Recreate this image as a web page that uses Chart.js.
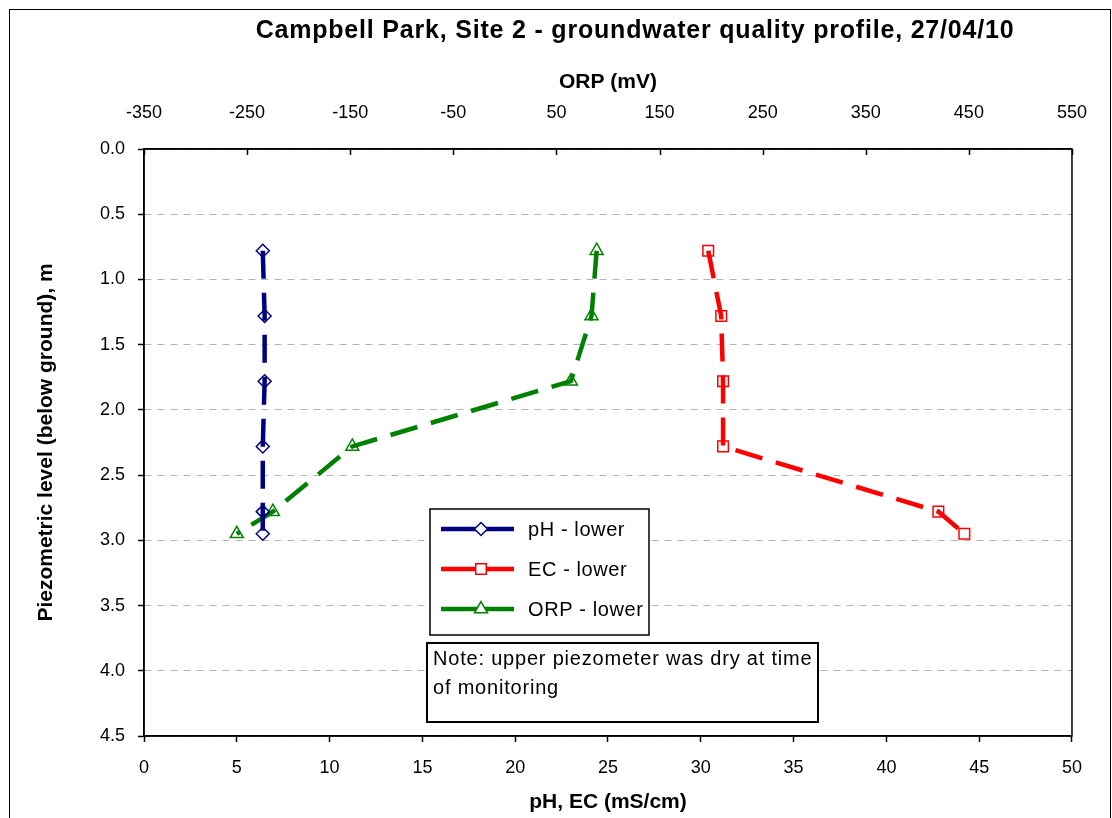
<!DOCTYPE html>
<html lang="en">
<head>
<meta charset="UTF-8">
<title>Campbell Park, Site 2 - groundwater quality profile</title>
<style>
  body { margin: 0; background: #fff; }
  #wrap { width: 1112px; height: 818px; }
</style>
</head>
<body>
<div id="wrap"><canvas id="profile"></canvas></div>
<script src="https://cdn.jsdelivr.net/npm/chart.js@4/dist/chart.umd.min.js"></script>
<script>
// sample depths below ground (m), lower piezometer
const depths = [0.78, 1.28, 1.78, 2.28, 2.78, 2.95]
const phLower = [6.4, 6.5, 6.5, 6.4, 6.4, 6.4]
const ecLower = [30.4, 31.1, 31.2, 31.2, 42.8, 44.2]
const orpLower = [89, 84, 64, -148, -225, -260]

const seriesNames = ['pH - lower', 'EC - lower', 'ORP - lower']
const bottomRange = [0, 50, 5]
const topRange = [-350, 550, 100]
const depthRange = [0, 4.5, 0.5]

const chartTitle = 'Campbell Park, Site 2 - groundwater quality profile, 27/04/10'
const noteLines = ['Note: upper piezometer was dry at time', 'of monitoring']

const FONT = 'Liberation Sans, Arial, sans-serif'
Chart.defaults.font.family = FONT
Chart.defaults.color = '#000'

const toPoints = vals => vals.map((v, i) => ({x: v, y: depths[i]}))

function drawMarker(ctx, style, x, y, r, color) {
    ctx.save()
    ctx.strokeStyle = color
    ctx.lineWidth = 1.5
    ctx.setLineDash([])
    ctx.beginPath()
    if (style === 'rectRot') {
        ctx.moveTo(x, y - r); ctx.lineTo(x + r, y); ctx.lineTo(x, y + r); ctx.lineTo(x - r, y); ctx.closePath()
    } else if (style === 'rect') {
        const s = r * Math.SQRT1_2
        ctx.rect(x - s, y - s, 2 * s, 2 * s)
    } else {
        const w = r * Math.sqrt(3) / 2
        ctx.moveTo(x, y - r); ctx.lineTo(x + w, y + r / 2); ctx.lineTo(x - w, y + r / 2); ctx.closePath()
    }
    ctx.fillStyle = '#fff'
    ctx.fill()
    ctx.stroke()
    ctx.restore()
}

const extras = {
    id: 'extras',
    afterDraw(chart) {
        const ctx = chart.ctx
        const area = chart.chartArea
        ctx.save()
        // outer frame
        ctx.strokeStyle = '#000'
        ctx.lineWidth = 1
        ctx.strokeRect(9.5, 9.5, 1101, 900)
        // plot border
        ctx.lineWidth = 1.5
        ctx.strokeRect(area.left, area.top, area.right - area.left, area.bottom - area.top)
        // inward ticks on ORP axis
        const top = chart.scales.x2
        top.ticks.forEach(t => {
            const px = Math.round(top.getPixelForValue(t.value)) + 0.5
            ctx.beginPath(); ctx.moveTo(px, area.top); ctx.lineTo(px, area.top + 6); ctx.stroke()
        })
        // title
        ctx.font = 'bold 25px ' + FONT
        ctx.letterSpacing = '0.8px'
        ctx.fillStyle = '#000'
        ctx.textAlign = 'center'
        ctx.textBaseline = 'middle'
        ctx.fillText(chartTitle, 635, 31)

        // legend
        ctx.fillStyle = '#fff'
        ctx.fillRect(430, 509, 219, 126)
        ctx.lineWidth = 1.5
        ctx.strokeRect(430, 509, 219, 126)
        ctx.font = '20px ' + FONT
        ctx.letterSpacing = '0.6px'
        ctx.textAlign = 'left'
        chart.data.datasets.forEach((ds, i) => {
            const y = 529 + i * 40
            ctx.strokeStyle = ds.borderColor
            ctx.lineWidth = ds.borderWidth
            ctx.beginPath(); ctx.moveTo(441, y); ctx.lineTo(514, y); ctx.stroke()
            drawMarker(ctx, ds.pointStyle, 481, y, ds.pointRadius, ds.pointBorderColor)
            ctx.fillStyle = '#000'
            ctx.fillText(ds.label, 528, y + 1)
        })

        // note box
        ctx.fillStyle = '#fff'
        ctx.fillRect(427, 643, 391, 79)
        ctx.strokeStyle = '#000'
        ctx.lineWidth = 2
        ctx.strokeRect(427, 643, 391, 79)
        ctx.fillStyle = '#000'
        ctx.font = '20px ' + FONT
        ctx.letterSpacing = '0.8px'
        noteLines.forEach((line, i) => ctx.fillText(line, 433, 659 + i * 29))
        ctx.restore()
    }
}

const line = (label, vals, axis, color, style, r) => ({
    label: label,
    data: toPoints(vals),
    xAxisID: axis,
    showLine: true,
    borderColor: color,
    borderWidth: 4.5,
    borderDash: [28, 14],
    tension: 0,
    pointStyle: style,
    pointRadius: r,
    pointHoverRadius: r,
    pointBorderWidth: 1.5,
    pointBorderColor: color,
    pointBackgroundColor: 'rgba(0,0,0,0)'
})

const ctx = document.getElementById('profile').getContext('2d')
const profileChart = new Chart(ctx, {
    type: 'scatter',
    data: {
        datasets: [
            line(seriesNames[0], phLower, 'x', '#000080', 'rectRot', 6.5),
            line(seriesNames[1], ecLower, 'x', '#ff0000', 'rect', 7.5),
            line(seriesNames[2], orpLower, 'x2', '#008000', 'triangle', 7.5)
        ]
    },
    options: {
        responsive: true,
        maintainAspectRatio: false,
        animation: false,
        events: [],
        layout: {padding: {top: 60, right: 39, left: 0, bottom: 0}},
        plugins: {legend: {display: false}, title: {display: false}, tooltip: {enabled: false}},
        scales: {
            x: {
                type: 'linear', position: 'bottom',
                min: bottomRange[0], max: bottomRange[1],
                afterFit: s => { s.height = 82 },
                ticks: {stepSize: bottomRange[2], font: {size: 18}, padding: 15, maxRotation: 0, autoSkip: false},
                grid: {drawOnChartArea: false, tickLength: 6, tickColor: '#000', tickWidth: 1.5},
                border: {display: true, color: '#000', width: 1.5},
                title: {display: true, text: 'pH, EC (mS/cm)', font: {size: 21, weight: 'bold'}, padding: {top: 0, bottom: 3}}
            },
            x2: {
                type: 'linear', position: 'top',
                min: topRange[0], max: topRange[1],
                afterFit: s => { s.height = 89 },
                ticks: {stepSize: topRange[2], font: {size: 18}, padding: 25, maxRotation: 0, autoSkip: false},
                grid: {drawOnChartArea: false, drawTicks: false},
                border: {display: true, color: '#000', width: 1.5},
                title: {display: true, text: 'ORP (mV)', font: {size: 21, weight: 'bold'}, padding: {top: 10, bottom: 0}}
            },
            y: {
                type: 'linear', position: 'left', reverse: true,
                min: depthRange[0], max: depthRange[1],
                afterFit: s => { s.width = 144 },
                ticks: {stepSize: depthRange[2], font: {size: 18}, padding: 13, callback: v => Number(v).toFixed(1)},
                grid: {color: '#b4b4b4', lineWidth: 1, tickLength: 6, tickColor: '#000', tickWidth: 1.5},
                border: {display: true, color: '#000', width: 1.5, dash: [7, 6]},
                title: {display: true, text: 'Piezometric level (below ground), m', font: {size: 21, weight: 'bold'}, padding: {top: 34, bottom: 0}}
            }
        }
    },
    plugins: [extras]
})
</script>
</body>
</html>
